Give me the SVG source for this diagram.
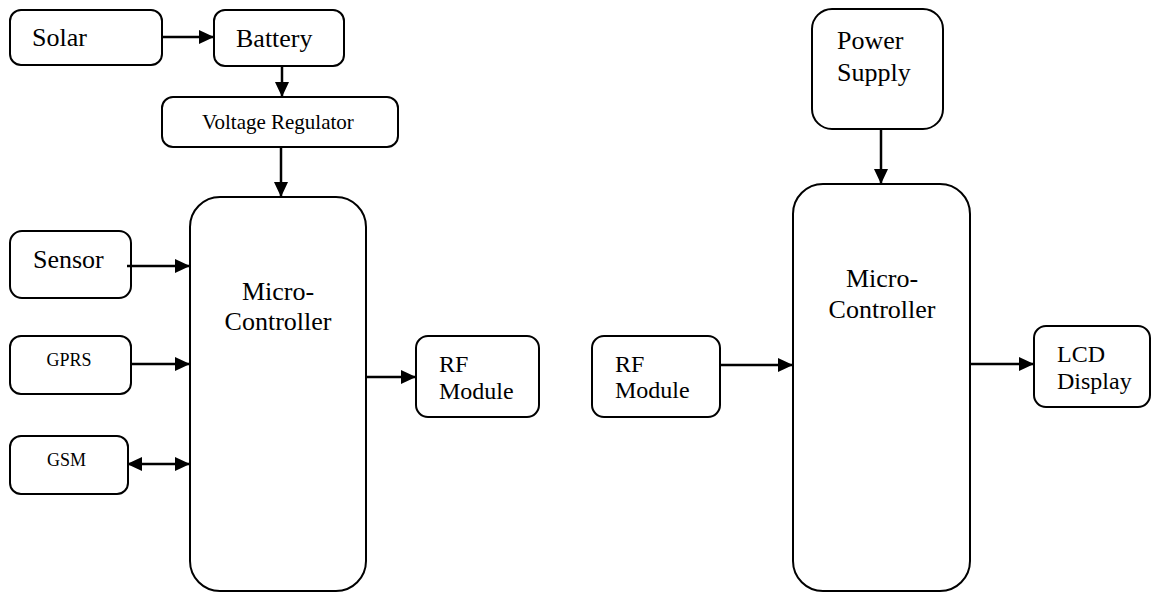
<svg xmlns="http://www.w3.org/2000/svg" width="1152" height="592" viewBox="0 0 1152 592">
<style>
.box{fill:#fff;stroke:#000;stroke-width:2}
text{font-family:"Liberation Serif","Times New Roman",serif;fill:#000}
.f26{font-size:26px}
.f24{font-size:24px}
.f21{font-size:21px}
.f18{font-size:18px}
.mid{text-anchor:middle}
.c{stroke:#000;stroke-width:2.5;fill:none}
</style>
<defs>
<marker id="ah" markerUnits="userSpaceOnUse" markerWidth="16" markerHeight="14" refX="15" refY="7" orient="auto">
<path d="M0,0 L15,7 L0,14 Z" fill="#000"/>
</marker>
<marker id="as" markerUnits="userSpaceOnUse" markerWidth="16" markerHeight="14" refX="1" refY="7" orient="auto">
<path d="M16,0 L1,7 L16,14 Z" fill="#000"/>
</marker>
</defs>
<rect width="1152" height="592" fill="#fff"/>
<g id="solar"><rect class="box" x="10" y="10" width="152" height="55" rx="11"/><text class="f26" x="32" y="46">Solar</text></g>
<g id="battery"><rect class="box" x="214" y="10" width="130" height="56" rx="11"/><text class="f26" x="236" y="47">Battery</text></g>
<g id="voltage-regulator"><rect class="box" x="162" y="97" width="236" height="50" rx="11"/><text class="f21" x="202" y="129">Voltage Regulator</text></g>
<g id="sensor"><rect class="box" x="10" y="231" width="121" height="67" rx="12"/><text class="f26" x="33" y="268">Sensor</text></g>
<g id="gprs"><rect class="box" x="10" y="336" width="121" height="58" rx="11"/><text class="f18 mid" x="69" y="366">GPRS</text></g>
<g id="gsm"><rect class="box" x="10" y="436" width="118" height="58" rx="11"/><text class="f18" x="47" y="466">GSM</text></g>
<g id="mc-left"><rect class="box" x="190" y="197" width="176" height="394" rx="30"/><text class="f26 mid" x="278" y="300">Micro-</text><text class="f26 mid" x="278" y="330">Controller</text></g>
<g id="rf-left"><rect class="box" x="416" y="336" width="123" height="81" rx="12"/><text class="f24" x="439" y="372">RF</text><text class="f24" x="439" y="399">Module</text></g>
<g id="power-supply"><rect class="box" x="812" y="9" width="131" height="120" rx="20"/><text class="f26" x="837" y="49">Power</text><text class="f26" x="837" y="81">Supply</text></g>
<g id="mc-right"><rect class="box" x="793" y="184" width="177" height="407" rx="30"/><text class="f26 mid" x="882" y="287">Micro-</text><text class="f26 mid" x="882" y="318">Controller</text></g>
<g id="rf-right"><rect class="box" x="592" y="336" width="128" height="81" rx="12"/><text class="f24" x="615" y="372">RF</text><text class="f24" x="615" y="398">Module</text></g>
<g id="lcd"><rect class="box" x="1034" y="326" width="116" height="81" rx="12"/><text class="f24" x="1057" y="362">LCD</text><text class="f24" x="1057" y="389">Display</text></g>
<g id="connectors">
<line class="c" x1="162" y1="37" x2="214" y2="37" marker-end="url(#ah)"/>
<line class="c" x1="282" y1="66" x2="282" y2="97" marker-end="url(#ah)"/>
<line class="c" x1="281" y1="147" x2="281" y2="197" marker-end="url(#ah)"/>
<line class="c" x1="127" y1="266" x2="190" y2="266" marker-end="url(#ah)"/>
<line class="c" x1="131" y1="364" x2="190" y2="364" marker-end="url(#ah)"/>
<line class="c" x1="127" y1="464" x2="190" y2="464" marker-start="url(#as)" marker-end="url(#ah)"/>
<line class="c" x1="366" y1="377" x2="416" y2="377" marker-end="url(#ah)"/>
<line class="c" x1="881" y1="129" x2="881" y2="184" marker-end="url(#ah)"/>
<line class="c" x1="720" y1="365" x2="793" y2="365" marker-end="url(#ah)"/>
<line class="c" x1="970" y1="364" x2="1034" y2="364" marker-end="url(#ah)"/>
</g>
</svg>
